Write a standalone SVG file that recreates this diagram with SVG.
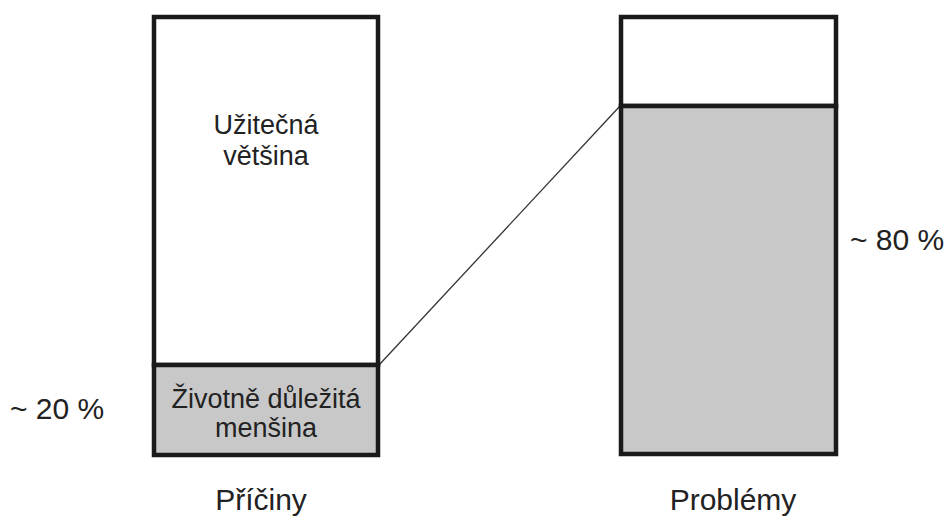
<svg xmlns="http://www.w3.org/2000/svg" width="951" height="518" viewBox="0 0 951 518">
<style>
.box{fill:#fff;stroke:#1a1a1a;stroke-width:4.5}
.gray{fill:#c8c8c8;stroke:#1a1a1a;stroke-width:4.5}
.t{font-family:"Liberation Sans",Arial,sans-serif;fill:#222}
.in{font-size:27px}
.out{font-size:30px}
.c{text-anchor:middle}
</style>
<rect width="951" height="518" fill="#fff"/>
<g id="connectors">
<line x1="379" y1="365" x2="620" y2="106" stroke="#333" stroke-width="1.3"/>
</g>
<g id="pricinybox">
<rect class="box" x="154" y="17" width="224" height="348"/>
<rect class="gray" x="154" y="365" width="224" height="90"/>
<text class="t in c" x="266" y="134">Užitečná</text>
<text class="t in c" x="266" y="165">většina</text>
<text class="t in c" x="266" y="408">Životně důležitá</text>
<text class="t in c" x="266" y="437">menšina</text>
<text class="t out c" x="261" y="510">Příčiny</text>
</g>
<g id="problemybox">
<rect class="box" x="621" y="17" width="215" height="89"/>
<rect class="gray" x="621" y="106" width="215" height="348"/>
<text class="t out c" x="733" y="510">Problémy</text>
</g>
<g id="labels">
<text class="t out" x="10" y="419">~ 20 %</text>
<text class="t out" x="850" y="250">~ 80 %</text>
</g>
</svg>
